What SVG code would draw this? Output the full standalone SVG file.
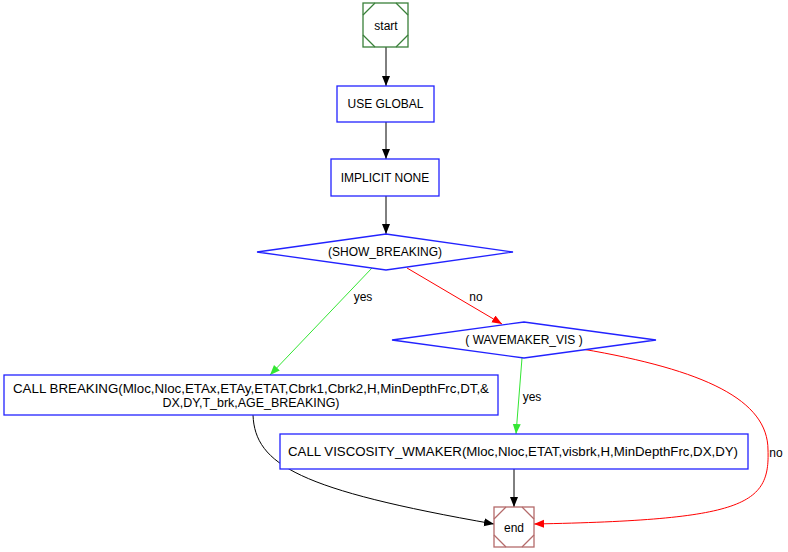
<svg xmlns="http://www.w3.org/2000/svg" width="788" height="552" viewBox="0 0 788 552">
<style>
text{font-family:"Liberation Sans",Arial,sans-serif;font-size:12px;fill:#000;text-anchor:middle}
.box{fill:#fff;stroke:#2222ff;stroke-width:1.3}
.st{fill:none;stroke:#3a803a;stroke-width:1.3}
.en{fill:none;stroke:#b46a6a;stroke-width:1.3}
.e{fill:none;stroke-width:1}
.k{stroke:#000}
.r{stroke:#ff0000}
.g{stroke:#33e633}
</style>
<defs>
<marker id="ak" markerUnits="userSpaceOnUse" markerWidth="12" markerHeight="10" refX="10" refY="4" orient="auto"><path d="M0,0 L10,4 L0,8 Z" fill="#000"/></marker>
<marker id="ar" markerUnits="userSpaceOnUse" markerWidth="12" markerHeight="10" refX="10" refY="4" orient="auto"><path d="M0,0 L10,4 L0,8 Z" fill="#ff0000"/></marker>
<marker id="ag" markerUnits="userSpaceOnUse" markerWidth="12" markerHeight="10" refX="10" refY="4" orient="auto"><path d="M0,0 L10,4 L0,8 Z" fill="#33e633"/></marker>
</defs>
<g id="connectors">
<path class="e k" d="M386,47 L386,86" marker-end="url(#ak)"/>
<path class="e k" d="M386,122 L386,159" marker-end="url(#ak)"/>
<path class="e k" d="M386,196 L386,234" marker-end="url(#ak)"/>
<path class="e g" d="M372,268 L270,375" marker-end="url(#ag)"/>
<text x="363" y="301">yes</text>
<path class="e r" d="M407,268 L502,324" marker-end="url(#ar)"/>
<text x="476" y="301">no</text>
<path class="e g" d="M522,358 L516,434" marker-end="url(#ag)"/>
<text x="532" y="401">yes</text>
<path class="e r" d="M582,349 C705,370 768,400 768,450 C770,505 745,520 534,524" marker-end="url(#ar)"/>
<text x="776" y="457">no</text>
<path class="e k" d="M514,469 L514,507" marker-end="url(#ak)"/>
<path class="e k" d="M253,415 C255,465 300,490 494,524" marker-end="url(#ak)"/>
</g>
<g id="start">
<rect class="st" x="363" y="3" width="45" height="44"/>
<path class="st" d="M363,15 L375,3 M396,3 L408,15 M408,35 L396,47 M375,47 L363,35"/>
<text x="386" y="30">start</text>
</g>
<g id="use_global">
<rect class="box" x="337" y="86" width="97" height="36"/>
<text x="385.5" y="108">USE GLOBAL</text>
</g>
<g id="implicit_none">
<rect class="box" x="331" y="159" width="108" height="37"/>
<text x="385" y="182">IMPLICIT NONE</text>
</g>
<g id="show_breaking">
<path class="box" d="M257,252 L386,234 L513,252 L386,270 Z"/>
<text x="385" y="256">(SHOW_BREAKING)</text>
</g>
<g id="wavemaker_vis">
<path class="box" d="M392,340 L524,322 L656,340 L524,358 Z"/>
<text x="524" y="344">( WAVEMAKER_VIS )</text>
</g>
<g id="breaking">
<rect class="box" x="4" y="375" width="494" height="40"/>
<text x="251" y="393" textLength="476" lengthAdjust="spacingAndGlyphs">CALL BREAKING(Mloc,Nloc,ETAx,ETAy,ETAT,Cbrk1,Cbrk2,H,MinDepthFrc,DT,&amp;</text>
<text x="251" y="407" textLength="177" lengthAdjust="spacingAndGlyphs">DX,DY,T_brk,AGE_BREAKING)</text>
</g>
<g id="viscosity">
<rect class="box" x="280" y="434" width="468" height="35"/>
<text x="513" y="456" textLength="450" lengthAdjust="spacingAndGlyphs">CALL VISCOSITY_WMAKER(Mloc,Nloc,ETAT,visbrk,H,MinDepthFrc,DX,DY)</text>
</g>
<g id="end">
<rect class="en" x="494" y="507" width="40" height="40"/>
<path class="en" d="M494,519 L506,507 M522,507 L534,519 M534,535 L522,547 M506,547 L494,535"/>
<text x="514" y="532">end</text>
</g>
</svg>
